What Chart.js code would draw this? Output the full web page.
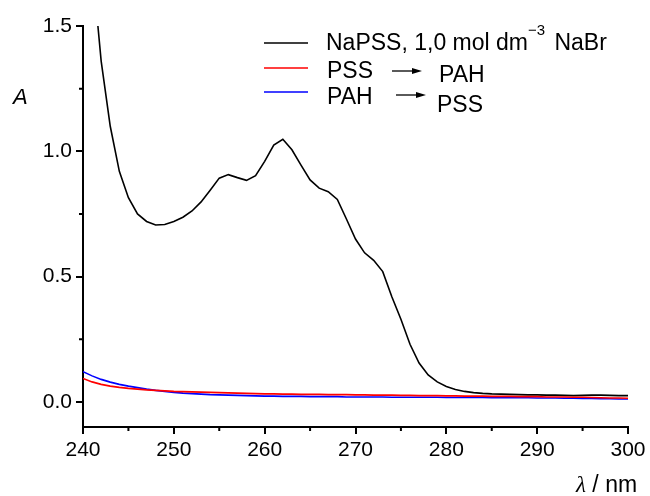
<!DOCTYPE html>
<html>
<head>
<meta charset="utf-8">
<script src="https://cdn.jsdelivr.net/npm/chart.js@4/dist/chart.umd.min.js"></script>
<style>
  html, body { margin: 0; padding: 0; background: #fff; }
  #wrap { width: 650px; height: 496px; }
</style>
</head>
<body>
<div id="wrap"><canvas id="chart"></canvas></div>
<script>
// wavelength (nm)
const wavelengths = [
  240, 241, 242, 243, 244, 245, 246, 247, 248, 249,
  250, 251, 252, 253, 254, 255, 256, 257, 258, 259,
  260, 261, 262, 263, 264, 265, 266, 267, 268, 269,
  270, 271, 272, 273, 274, 275, 276, 277, 278, 279,
  280, 281, 282, 283, 284, 285, 286, 287, 288, 289,
  290, 291, 292, 293, 294, 295, 296, 297, 298, 299, 300
];

// NaPSS, 1,0 mol dm-3 NaBr
const naPss = [
  2.20, 1.75, 1.36, 1.10, 0.92, 0.815, 0.75, 0.72, 0.706, 0.708,
  0.72, 0.737, 0.762, 0.798, 0.845, 0.893, 0.907, 0.895, 0.884, 0.903,
  0.96, 1.025, 1.048, 1.006, 0.945, 0.886, 0.853, 0.839, 0.808, 0.73,
  0.65, 0.595, 0.565, 0.52, 0.42, 0.33, 0.23, 0.155, 0.108, 0.08,
  0.062, 0.05, 0.042, 0.037, 0.034, 0.032, 0.031, 0.030, 0.029, 0.028,
  0.028, 0.027, 0.027, 0.026, 0.025, 0.026, 0.027, 0.027, 0.026, 0.025, 0.025
];

// PSS -> PAH
const pssPah = [
  0.094, 0.080, 0.070, 0.063, 0.058, 0.054, 0.051, 0.048, 0.046, 0.044,
  0.042, 0.041, 0.040, 0.039, 0.038, 0.037, 0.036, 0.035, 0.034, 0.033,
  0.032, 0.032, 0.031, 0.031, 0.030, 0.030, 0.030, 0.029, 0.029, 0.029,
  0.028, 0.028, 0.027, 0.027, 0.027, 0.026, 0.026, 0.025, 0.025, 0.025,
  0.024, 0.024, 0.023, 0.023, 0.023, 0.022, 0.022, 0.022, 0.021, 0.021,
  0.021, 0.020, 0.020, 0.020, 0.019, 0.019, 0.018, 0.017, 0.016, 0.016, 0.015
];

// PAH -> PSS
const pahPss = [
  0.121, 0.104, 0.090, 0.079, 0.070, 0.063, 0.057, 0.051, 0.046, 0.042,
  0.038, 0.035, 0.033, 0.031, 0.029, 0.028, 0.027, 0.026, 0.025, 0.024,
  0.023, 0.023, 0.022, 0.022, 0.022, 0.021, 0.021, 0.021, 0.021, 0.020,
  0.020, 0.020, 0.020, 0.020, 0.019, 0.019, 0.019, 0.019, 0.019, 0.019,
  0.018, 0.018, 0.018, 0.018, 0.018, 0.017, 0.017, 0.017, 0.017, 0.017,
  0.016, 0.016, 0.016, 0.015, 0.015, 0.014, 0.014, 0.013, 0.013, 0.012, 0.012
];

const xTicks = [240, 250, 260, 270, 280, 290, 300];
const xMinorTicks = [245, 255, 265, 275, 285, 295];
const yMinorTicks = [0.25, 0.75, 1.25];

const FONT = '"Liberation Sans", Arial, sans-serif';

function toPoints(ys) {
  return wavelengths.map((x, i) => ({ x: x, y: ys[i] }));
}

// minor ticks, axis titles and the hand-made legend
const decorations = {
  id: 'decorations',
  afterDraw(chart) {
    const ctx = chart.ctx;
    const xs = chart.scales.x;
    const ys = chart.scales.y;
    const area = chart.chartArea;

    ctx.save();
    ctx.strokeStyle = '#000';
    ctx.lineWidth = 2;
    ctx.beginPath();
    xMinorTicks.forEach(v => {
      const px = xs.getPixelForValue(v);
      ctx.moveTo(px, area.bottom);
      ctx.lineTo(px, area.bottom + 4);
    });
    yMinorTicks.forEach(v => {
      const py = ys.getPixelForValue(v);
      ctx.moveTo(area.left, py);
      ctx.lineTo(area.left - 4, py);
    });
    ctx.stroke();

    // axis titles
    ctx.fillStyle = '#000';
    ctx.textBaseline = 'alphabetic';
    ctx.textAlign = 'left';
    ctx.font = 'italic 22px ' + FONT;
    ctx.fillText('A', 13, 104);

    ctx.font = 'italic 23px "Liberation Serif", "Times New Roman", serif';
    ctx.fillText('λ', 576, 492);
    const lw = ctx.measureText('λ').width;
    ctx.font = '23px ' + FONT;
    ctx.fillText(' / nm', 576 + lw, 492);

    // legend
    const legendLines = [
      { color: '#000000', y: 43 },
      { color: '#ff0000', y: 68 },
      { color: '#0000ff', y: 92 }
    ];
    ctx.lineWidth = 1.6;
    legendLines.forEach(l => {
      ctx.strokeStyle = l.color;
      ctx.beginPath();
      ctx.moveTo(264, l.y);
      ctx.lineTo(308, l.y);
      ctx.stroke();
    });

    ctx.font = '23px ' + FONT;
    let x = 326;
    const s1 = 'NaPSS, 1,0 mol dm';
    ctx.fillText(s1, x, 50);
    x += ctx.measureText(s1).width;
    ctx.font = '15px ' + FONT;
    ctx.fillText('\u22123', x, 35);
    x += ctx.measureText('\u22123').width + 3;
    ctx.font = '23px ' + FONT;
    ctx.fillText(' NaBr', x, 50);

    ctx.fillText('PSS', 327, 78);
    ctx.fillText('PAH', 439, 82);
    ctx.fillText('PAH', 327, 104);
    ctx.fillText('PSS', 437, 112);

    // arrows
    const arrows = [
      { x1: 392, x2: 422, y: 71 },
      { x1: 396, x2: 426, y: 95 }
    ];
    ctx.strokeStyle = '#000';
    ctx.lineWidth = 1.3;
    arrows.forEach(a => {
      ctx.beginPath();
      ctx.moveTo(a.x1, a.y);
      ctx.lineTo(a.x2 - 8, a.y);
      ctx.stroke();
      ctx.beginPath();
      ctx.moveTo(a.x2, a.y);
      ctx.lineTo(a.x2 - 10, a.y - 3);
      ctx.lineTo(a.x2 - 10, a.y + 3);
      ctx.closePath();
      ctx.fill();
    });
    ctx.restore();
  }
};

const ctx = document.getElementById('chart').getContext('2d');
new Chart(ctx, {
  type: 'line',
  data: {
    datasets: [
      { label: 'PSS \u2192 PAH', data: toPoints(pssPah), borderColor: '#ff0000', borderWidth: 1.6 },
      { label: 'PAH \u2192 PSS', data: toPoints(pahPss), borderColor: '#0000ff', borderWidth: 1.6 },
      { label: 'NaPSS, 1,0 mol dm\u207B\u00B3 NaBr', data: toPoints(naPss), borderColor: '#000000', borderWidth: 1.6 }
    ]
  },
  options: {
    responsive: true,
    maintainAspectRatio: false,
    animation: false,
    devicePixelRatio: 1,
    layout: { padding: { left: 0, right: 22, top: 26, bottom: 0 } },
    elements: {
      point: { radius: 0 },
      line: { tension: 0, fill: false }
    },
    plugins: {
      legend: { display: false },
      tooltip: { enabled: false }
    },
    scales: {
      x: {
        type: 'linear',
        min: 240,
        max: 300,
        afterFit: s => { s.height = 69; },
        afterBuildTicks: s => { s.ticks = xTicks.map(v => ({ value: v })); },
        border: { display: true, color: '#000', width: 2 },
        grid: { drawOnChartArea: false, drawTicks: true, tickLength: 7, color: '#000', lineWidth: 2 },
        ticks: { color: '#000', padding: 4, font: { family: FONT, size: 21 } }
      },
      y: {
        min: -0.1,
        max: 1.5,
        afterFit: s => { s.width = 83; },
        border: { display: true, color: '#000', width: 2 },
        grid: { drawOnChartArea: false, drawTicks: true, tickLength: 7, color: '#000', lineWidth: 2 },
        ticks: {
          stepSize: 0.5,
          includeBounds: false,
          color: '#000',
          padding: 4,
          font: { family: FONT, size: 21 },
          callback: v => v.toFixed(1)
        }
      }
    }
  },
  plugins: [decorations]
});
</script>
</body>
</html>
